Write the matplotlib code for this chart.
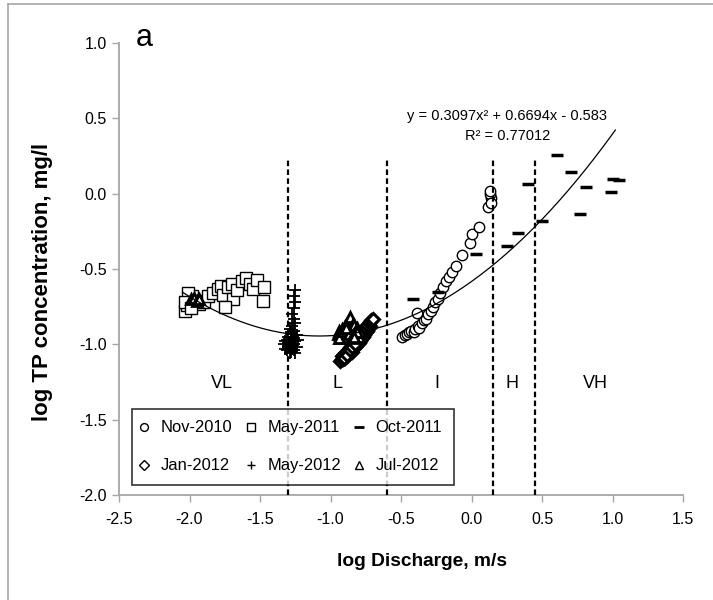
import numpy as np
import matplotlib
matplotlib.use("Agg")
import matplotlib.pyplot as plt
from matplotlib.lines import Line2D
from matplotlib.ticker import FormatStrFormatter

plt.rcParams['font.family'] = ['Liberation Sans', 'DejaVu Sans']

### DATOS
### ------------------

# Nov-2010 (circulos)
nov10_x = [-0.49, -0.47, -0.46, -0.44, -0.43, -0.41, -0.40, -0.38, -0.37, -0.35, -0.34, -0.32,
           -0.31, -0.29, -0.27, -0.26, -0.24, -0.22, -0.20, -0.18, -0.16, -0.14, -0.11, -0.07,
           -0.01, 0.00, 0.05, 0.12, 0.14, 0.13, 0.13, 0.14, -0.39]
nov10_y = [-0.95, -0.94, -0.93, -0.92, -0.91, -0.92, -0.90, -0.88, -0.89, -0.86, -0.84, -0.83,
           -0.80, -0.78, -0.75, -0.72, -0.70, -0.66, -0.62, -0.58, -0.55, -0.52, -0.48, -0.41,
           -0.33, -0.27, -0.22, -0.09, -0.03, 0.00, 0.02, -0.06, -0.79]

# May-2011 (cuadrados)
may11_x = [-2.03, -2.02, -2.00, -1.98, -1.96, -1.93, -1.90, -1.87, -1.83, -1.80, -1.78, -1.76,
           -1.73, -1.70, -1.69, -1.66, -1.63, -1.60, -1.57, -1.55, -1.52, -1.47, -1.48, -1.75,
           -2.01, -2.03, -1.99]
may11_y = [-0.78, -0.74, -0.70, -0.68, -0.71, -0.73, -0.72, -0.68, -0.66, -0.63, -0.61, -0.67,
           -0.62, -0.60, -0.70, -0.64, -0.58, -0.56, -0.60, -0.63, -0.57, -0.62, -0.71, -0.75,
           -0.66, -0.72, -0.76]

# Oct-2011 (guiones)
oct11_x = [-0.415, -0.24, 0.03, 0.25, 0.33, 0.40, 0.50, 0.606, 0.706, 0.77, 0.812, 0.989, 1.003, 1.046]
oct11_y = [-0.70, -0.65, -0.40, -0.347, -0.26, 0.064, -0.181, 0.257, 0.144, -0.135, 0.044, 0.011, 0.098, 0.091]

# Jan-2012 (rombos)
jan12_x = [-0.93, -0.92, -0.91, -0.90, -0.89, -0.88, -0.87, -0.86, -0.85, -0.84, -0.83, -0.82,
           -0.81, -0.80, -0.79, -0.78, -0.77, -0.76, -0.75, -0.74, -0.73, -0.72,
           -0.92, -0.91, -0.90, -0.89, -0.88, -0.87, -0.86, -0.85, -0.84, -0.83, -0.82, -0.81,
           -0.80, -0.79, -0.78, -0.77, -0.76, -0.75, -0.74, -0.73, -0.72, -0.71, -0.70,
           -0.905, -0.885, -0.865, -0.845, -0.825]
jan12_y = [-1.11, -1.10, -1.10, -1.09, -1.08, -1.08, -1.06, -1.05, -1.05, -1.03, -1.02, -1.01,
           -1.00, -0.99, -0.98, -0.96, -0.95, -0.94, -0.92, -0.91, -0.89, -0.88,
           -1.08, -1.07, -1.06, -1.05, -1.05, -1.03, -1.02, -1.01, -1.00, -0.99, -0.97, -0.96,
           -0.95, -0.94, -0.93, -0.91, -0.90, -0.89, -0.87, -0.86, -0.85, -0.84, -0.83,
           -1.09, -1.07, -1.04, -1.02, -1.00]

# May-2012 (cruces)
may12_x = [-1.25, -1.26, -1.25, -1.26, -1.27, -1.26, -1.25, -1.27, -1.29, -1.26, -1.28, -1.24,
           -1.27, -1.30, -1.26, -1.28, -1.31, -1.27, -1.25, -1.29, -1.26, -1.28, -1.30, -1.27,
           -1.24, -1.29, -1.27, -1.32, -1.26, -1.28, -1.30, -1.27, -1.23, -1.33, -1.31, -1.29,
           -1.25, -1.32, -1.28, -1.30]
may12_y = [-0.64, -0.68, -0.72, -0.76, -0.80, -0.83, -0.86, -0.88, -0.90, -0.91, -0.93, -0.94,
           -0.95, -0.95, -0.96, -0.97, -0.97, -0.98, -0.98, -0.99, -1.00, -1.00, -1.01, -1.01,
           -1.02, -1.02, -1.03, -1.03, -1.04, -1.05, -0.99, -0.93, -0.97, -1.00, -1.04, -1.06,
           -1.06, -0.98, -0.92, -1.02]

# Jul-2012 (triangulos)
jul12_x = [-0.95, -0.94, -0.93, -0.92, -0.91, -0.90, -0.89, -0.88, -0.87, -0.86, -0.86, -0.85,
           -0.84, -0.83, -0.82, -0.81, -0.80, -0.79, -0.90, -0.85, -0.93, -0.88, -0.94, -0.91,
           -0.87, -0.84, -0.81, -0.89, -0.83,
           -1.99, -1.97, -1.95, -1.93]
jul12_y = [-0.93, -0.91, -0.94, -0.90, -0.93, -0.88, -0.92, -0.86, -0.90, -0.82, -0.94, -0.88,
           -0.91, -0.87, -0.93, -0.89, -0.95, -0.92, -0.95, -0.96, -0.96, -0.95, -0.96, -0.91,
           -0.93, -0.94, -0.92, -0.89, -0.95,
           -0.70, -0.69, -0.71, -0.70]

# Ajuste polinomico y limites de zonas
fit_coefs = [0.3097, 0.6694, -0.583]
fit_range = (-2.05, 1.02)
zone_bounds = [-1.3, -0.6, 0.15, 0.45]
zone_names = ['VL', 'L', 'I', 'H', 'VH']
zone_label_x = [-1.77, -0.95, -0.245, 0.287, 0.876]

### GRAFICO
### ------------------

fig = plt.figure(figsize=(7.13, 6.0), dpi=100)
ax = fig.add_axes([119 / 713, 1 - 495 / 600, 564 / 713, 452 / 600])

ax.plot(nov10_x, nov10_y, 'o', ms=7.5, mfc='white', mec='black', mew=1.0, label='Nov-2010')
ax.plot(may11_x, may11_y, 's', ms=8.5, mfc='white', mec='black', mew=1.0, label='May-2011')
ax.plot(oct11_x, oct11_y, '_', ms=9, mec='black', mew=2.5, label='Oct-2011')
ax.plot(jan12_x, jan12_y, 'D', ms=6.5, mfc='white', mec='black', mew=2.2, label='Jan-2012')
ax.plot(may12_x, may12_y, '+', ms=8, mec='black', mew=1.3, label='May-2012')
ax.plot(jul12_x, jul12_y, '^', ms=7.5, mfc='white', mec='black', mew=2.0, label='Jul-2012')

xs = np.linspace(fit_range[0], fit_range[1], 200)
ax.plot(xs, np.polyval(fit_coefs, xs), color='black', lw=0.9, zorder=3)

for b in zone_bounds:
    ax.plot([b, b], [-2.0, 0.23], color='black', lw=1.6, linestyle=(0, (2.5, 1.5)), zorder=4)

for name, zx in zip(zone_names, zone_label_x):
    ax.text(zx, -1.26, name, fontsize=13, ha='center', va='center')

ax.text(0.255, 0.516, 'y = 0.3097x² + 0.6694x - 0.583', fontsize=10.5, ha='center', va='center')
ax.text(0.255, 0.383, 'R² = 0.77012', fontsize=10.5, ha='center', va='center')
ax.text(-2.32, 1.03, 'a', fontsize=22, ha='center', va='center')

ax.set_xlim(-2.5, 1.5)
ax.set_ylim(-2.0, 1.0)
ax.set_xticks(np.arange(-2.5, 1.51, 0.5))
ax.set_yticks(np.arange(-2.0, 1.01, 0.5))
ax.xaxis.set_major_formatter(FormatStrFormatter('%.1f'))
ax.yaxis.set_major_formatter(FormatStrFormatter('%.1f'))
for s in ['top', 'right']:
    ax.spines[s].set_visible(False)
for s in ['left', 'bottom']:
    ax.spines[s].set_color('#a6a6a6')
    ax.spines[s].set_linewidth(1.3)
ax.tick_params(direction='out', length=5, width=1.0, color='#a6a6a6', labelsize=11.5, pad=4)
ax.tick_params(axis='x', pad=7)

handles, labels = ax.get_legend_handles_labels()
order = [0, 3, 1, 4, 2, 5]
leg_handles = []
for i in order:
    h = handles[i]
    leg_handles.append(Line2D([], [], linestyle='none', marker=h.get_marker(),
                              ms=h.get_markersize() * 0.75, mfc=h.get_markerfacecolor(),
                              mec='black', mew=1.0 if h.get_marker() != '_' else 2.0))
leg = ax.legend(leg_handles, [labels[i] for i in order], ncol=3, loc='lower left',
                bbox_to_anchor=(0.023, 0.022), fontsize=11.9, frameon=True, fancybox=False,
                handlelength=0.1, handletextpad=0.95, columnspacing=1.05, labelspacing=1.4,
                borderpad=0.7, borderaxespad=0)
leg.get_frame().set_edgecolor('black')
leg.get_frame().set_linewidth(1.2)

fig.text(422 / 713, 1 - 562 / 600, 'log Discharge, m/s', fontsize=13.8, fontweight='bold',
         ha='center', va='center')
fig.text(43 / 713, 1 - 282 / 600, 'log TP concentration, mg/l', fontsize=16, fontweight='bold',
         ha='center', va='center', rotation=90)

# marco exterior
fig.add_artist(Line2D([8 / 713, 8 / 713], [0, 1 - 4 / 600], color='#a6a6a6', lw=1.2))
fig.add_artist(Line2D([8 / 713, 1], [1 - 4 / 600, 1 - 4 / 600], color='#a6a6a6', lw=1.2))

fig.savefig('out.png', dpi=100)
